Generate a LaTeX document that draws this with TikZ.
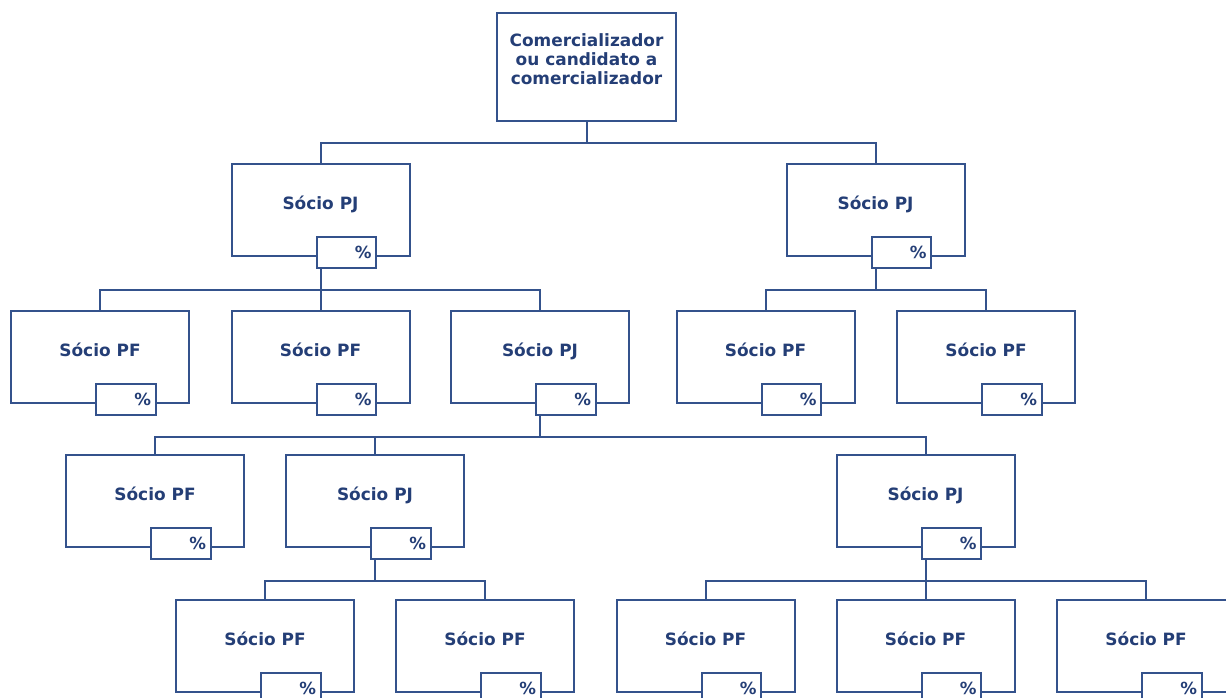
\documentclass[tikz,border=0pt]{standalone}
\usepackage{fontspec}
\setmainfont{DejaVu Sans}
\usetikzlibrary{calc}
\definecolor{navy}{RGB}{36,62,118}
\definecolor{lineblue}{RGB}{52,82,140}
\tikzset{
  mainbox/.style={draw=lineblue, line width=1.5pt, fill=white, minimum width=133.5pt, minimum height=69pt, inner sep=0pt},
  topbox/.style={draw=lineblue, line width=1.5pt, fill=white, minimum width=134pt, minimum height=81pt, inner sep=0pt},
  lbl/.style={text=navy, font=\bfseries\fontsize{12.7pt}{14.25pt}\selectfont, align=center, inner sep=0pt},
  slbl/.style={lbl, text height=9.7pt, text depth=0pt},
  pct/.style={draw=lineblue, line width=1.5pt, fill=white, text=navy, font=\bfseries\fontsize{12.5pt}{14pt}\selectfont, inner xsep=3.5pt, inner ysep=0pt, text width=37.5pt, align=right, minimum height=23.25pt},
  conn/.style={draw=lineblue, line width=1.5pt},
}
\newcommand{\socio}[4]{%
  \node[mainbox] (#1) at (#2) {};
  \node[slbl] (#1-t) at ([yshift=5pt]#1.center) {#3};
  \node[pct] (#1-p) at ([shift={(19.5pt,-31.9pt)}]#1.center) {\%};
  \coordinate (#1-o) at (#1-p.south -| #1.center);
}
\newcommand{\linkto}[2]{%
  \draw[conn] (#1) -- ++(0,21) -| (#2.north);
}
\begin{document}
\begin{tikzpicture}[x=0.75pt,y=-0.75pt]
\useasboundingbox (0,0) rectangle (1226,698);
\clip (0,0) rectangle (1226,698);
\coordinate (tpos) at (586.5,67);
\coordinate (l1a) at (320.5,210);
\coordinate (l1b) at (875.5,210);
\coordinate (l2a) at (100,356.5);
\coordinate (l2b) at (320.5,356.5);
\coordinate (l2c) at (540,356.5);
\coordinate (l2d) at (765.5,356.5);
\coordinate (l2e) at (986,356.5);
\coordinate (l3a) at (155,501);
\coordinate (l3b) at (375,501);
\coordinate (l3c) at (925.5,501);
\coordinate (l4a) at (265,646);
\coordinate (l4b) at (485,646);
\coordinate (l4c) at (705.5,646);
\coordinate (l4d) at (925.5,646);
\coordinate (l4e) at (1146,646);

\node[topbox] (top) at (tpos) {};
\node[lbl] (top-t) at ([yshift=5.6pt]top.center) {Comercializador\\ou candidato a\\comercializador};
\coordinate (top-o) at (top.south);

\socio{sa}{l1a}{Sócio PJ}{}
\socio{sb}{l1b}{Sócio PJ}{}
\socio{sc}{l2a}{Sócio PF}{}
\socio{sd}{l2b}{Sócio PF}{}
\socio{se}{l2c}{Sócio PJ}{}
\socio{sf}{l2d}{Sócio PF}{}
\socio{sg}{l2e}{Sócio PF}{}
\socio{sh}{l3a}{Sócio PF}{}
\socio{si}{l3b}{Sócio PJ}{}
\socio{sj}{l3c}{Sócio PJ}{}
\socio{sk}{l4a}{Sócio PF}{}
\socio{sl}{l4b}{Sócio PF}{}
\socio{sm}{l4c}{Sócio PF}{}
\socio{sn}{l4d}{Sócio PF}{}
\socio{so}{l4e}{Sócio PF}{}

\linkto{top-o}{sa}
\linkto{top-o}{sb}
\linkto{sa-o}{sc}
\linkto{sa-o}{sd}
\linkto{sa-o}{se}
\linkto{sb-o}{sf}
\linkto{sb-o}{sg}
\linkto{se-o}{sh}
\linkto{se-o}{si}
\linkto{se-o}{sj}
\linkto{si-o}{sk}
\linkto{si-o}{sl}
\linkto{sj-o}{sm}
\linkto{sj-o}{sn}
\linkto{sj-o}{so}
\end{tikzpicture}
\end{document}
